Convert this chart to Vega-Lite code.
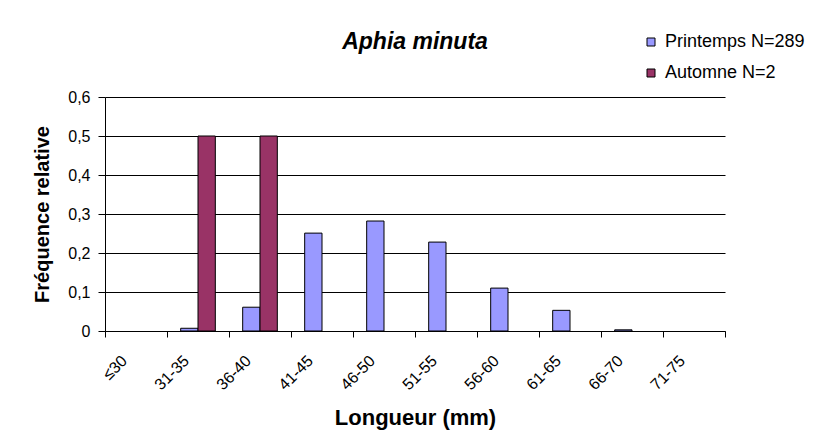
{
  "$schema": "https://vega.github.io/schema/vega-lite/v6.json",
  "width": 620,
  "height": 234,
  "autosize": {"type": "none"},
  "padding": {"left": 105, "top": 97, "right": 96, "bottom": 112},
  "background": "white",
  "title": {
    "text": "Aphia minuta",
    "font": "Liberation Sans",
    "fontSize": 23,
    "fontWeight": "bold",
    "fontStyle": "italic",
    "color": "black",
    "anchor": "middle",
    "offset": -21
  },
  "data": {
    "values": [
      {"classe": "31-35", "saison": "Printemps N=289", "freq": 0.007},
      {"classe": "36-40", "saison": "Printemps N=289", "freq": 0.061},
      {"classe": "41-45", "saison": "Printemps N=289", "freq": 0.251},
      {"classe": "46-50", "saison": "Printemps N=289", "freq": 0.282},
      {"classe": "51-55", "saison": "Printemps N=289", "freq": 0.228},
      {"classe": "56-60", "saison": "Printemps N=289", "freq": 0.110},
      {"classe": "61-65", "saison": "Printemps N=289", "freq": 0.053},
      {"classe": "66-70", "saison": "Printemps N=289", "freq": 0.003},
      {"classe": "31-35", "saison": "Automne N=2", "freq": 0.5},
      {"classe": "36-40", "saison": "Automne N=2", "freq": 0.5}
    ]
  },
  "mark": {"type": "bar", "stroke": "black", "strokeWidth": 1},
  "encoding": {
    "x": {
      "field": "classe",
      "type": "nominal",
      "scale": {
        "domain": ["≤30", "31-35", "36-40", "41-45", "46-50", "51-55", "56-60", "61-65", "66-70", "71-75"],
        "paddingInner": 0,
        "paddingOuter": 0
      },
      "axis": {
        "title": "Longueur (mm)",
        "titleFont": "Liberation Sans",
        "titleFontSize": 22,
        "titleFontWeight": "bold",
        "titleColor": "black",
        "titlePadding": 15,
        "labelFont": "Liberation Sans",
        "labelFontSize": 16,
        "labelColor": "black",
        "labelAngle": -45,
        "labelAlign": "right",
        "labelBaseline": "middle",
        "labelPadding": 21,
        "labelOffset": -12,
        "tickBand": "extent",
        "tickSize": 6,
        "tickColor": "black",
        "domainColor": "black",
        "grid": false
      }
    },
    "xOffset": {
      "field": "saison",
      "type": "nominal",
      "scale": {
        "domain": ["Printemps N=289", "Automne N=2"],
        "paddingInner": 0,
        "paddingOuter": 0.79
      }
    },
    "y": {
      "field": "freq",
      "type": "quantitative",
      "scale": {"domain": [0, 0.6], "nice": false},
      "axis": {
        "title": "Fréquence relative",
        "titleFont": "Liberation Sans",
        "titleFontSize": 20,
        "titleFontWeight": "bold",
        "titleColor": "black",
        "titlePadding": 15,
        "values": [0, 0.1, 0.2, 0.3, 0.4, 0.5, 0.6],
        "labelExpr": "datum.value == 0 ? '0' : replace(format(datum.value, '.1f'), '.', ',')",
        "labelFont": "Liberation Sans",
        "labelFontSize": 16,
        "labelColor": "black",
        "labelPadding": 8,
        "tickSize": 7,
        "tickColor": "black",
        "domainColor": "black",
        "grid": true,
        "gridColor": "black",
        "gridOpacity": 1
      }
    },
    "color": {
      "field": "saison",
      "type": "nominal",
      "scale": {
        "domain": ["Printemps N=289", "Automne N=2"],
        "range": ["#9999FF", "#993366"]
      },
      "legend": {
        "title": null,
        "orient": "none",
        "legendX": 537,
        "legendY": -64,
        "padding": 0,
        "symbolType": "square",
        "symbolSize": 64,
        "symbolStrokeColor": "black",
        "symbolStrokeWidth": 1,
        "labelFont": "Liberation Sans",
        "labelFontSize": 18,
        "labelColor": "black",
        "labelOffset": 5,
        "labelLimit": 300,
        "rowPadding": 13
      }
    }
  },
  "config": {
    "view": {"stroke": null},
    "axis": {"domainWidth": 1, "tickWidth": 1}
  }
}
